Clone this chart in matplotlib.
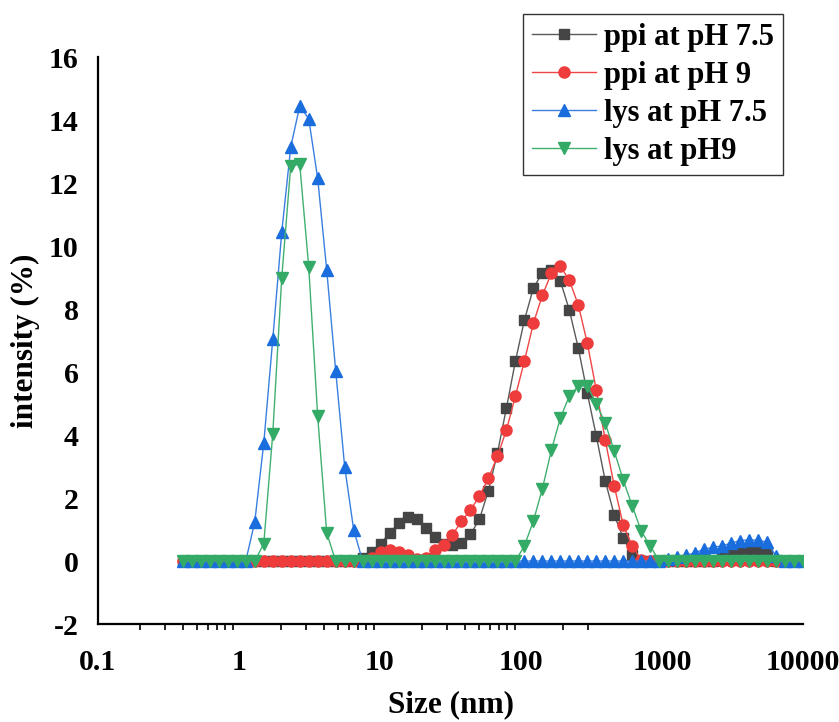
import matplotlib.pyplot as plt
from matplotlib.ticker import FixedLocator, NullFormatter

plt.rcParams['font.family'] = ['Liberation Serif', 'DejaVu Serif']
plt.rcParams['font.weight'] = 'bold'
plt.rcParams['axes.unicode_minus'] = False

# Zetasizer size bins (nm)
size_nm = [0.4, 0.4632, 0.5365, 0.6213, 0.7195, 0.8332, 0.9649, 1.117, 1.294, 1.499,
           1.736, 2.01, 2.328, 2.696, 3.122, 3.615, 4.187, 4.849, 5.615, 6.503,
           7.531, 8.721, 10.1, 11.7, 13.54, 15.69, 18.17, 21.04, 24.36, 28.21,
           32.67, 37.84, 43.82, 50.75, 58.77, 68.06, 78.82, 91.28, 105.7, 122.4,
           141.8, 164.2, 190.1, 220.2, 255.0, 295.3, 342.0, 396.1, 458.7, 531.2,
           615.1, 712.4, 825.0, 955.4, 1106, 1281, 1484, 1718, 1990, 2305,
           2669, 3091, 3580, 4145, 4801, 5560, 6439, 7456, 8635, 10000]

# intensity (%) per bin
ppi_ph75 = [0, 0, 0, 0, 0, 0, 0, 0, 0, 0,
            0, 0, 0, 0, 0, 0, 0, 0, 0, 0,
            0.1, 0.3, 0.55, 0.9, 1.2, 1.4, 1.35, 1.05, 0.75, 0.55,
            0.5, 0.58, 0.85, 1.33, 2.24, 3.43, 4.86, 6.35, 7.65, 8.67,
            9.15, 9.25, 8.9, 7.97, 6.76, 5.33, 3.97, 2.54, 1.46, 0.73,
            0.2, 0, 0, 0, 0, 0, 0, 0, 0, 0,
            0.1, 0.2, 0.25, 0.3, 0.3, 0.25, 0, 0, 0, 0]

ppi_ph9 = [0, 0, 0, 0, 0, 0, 0, 0, 0, 0,
           0, 0, 0, 0, 0, 0, 0, 0, 0, 0,
           0, 0.1, 0.3, 0.35, 0.3, 0.2, 0.05, 0.1, 0.35, 0.5,
           0.83, 1.27, 1.62, 2.06, 2.63, 3.33, 4.16, 5.24, 6.35, 7.55,
           8.44, 9.14, 9.36, 8.92, 8.13, 6.92, 5.43, 3.84, 2.38, 1.14,
           0.48, 0.03, 0, 0, 0, 0, 0, 0, 0, 0,
           0, 0, 0, 0, 0, 0, 0, 0, 0, 0]

lys_ph75 = [0, 0, 0, 0, 0, 0, 0, 0, 1.25, 3.75,
            7.05, 10.45, 13.15, 14.45, 14.05, 12.15, 9.25, 6.05, 3.0, 1.0,
            0, 0, 0, 0, 0, 0, 0, 0, 0, 0,
            0, 0, 0, 0, 0, 0, 0, 0, 0, 0,
            0, 0, 0, 0, 0, 0, 0, 0, 0, 0,
            0, 0, 0, 0, 0.08, 0.12, 0.18, 0.27, 0.37, 0.44,
            0.48, 0.57, 0.65, 0.67, 0.66, 0.6, 0.15, 0, 0, 0]

lys_ph9 = [0, 0, 0, 0, 0, 0, 0, 0, 0, 0.55,
           4.05, 9.0, 12.55, 12.6, 9.35, 4.6, 0.9, 0, 0, 0,
           0, 0, 0, 0, 0, 0, 0, 0, 0, 0,
           0, 0, 0, 0, 0, 0, 0, 0, 0.48, 1.27,
           2.3, 3.52, 4.54, 5.24, 5.56, 5.56, 5.0, 4.38, 3.49, 2.57,
           1.75, 0.95, 0.48, 0, 0, 0, 0, 0, 0, 0,
           0, 0, 0, 0, 0, 0, 0, 0, 0, 0]

x_ticks = [0.1, 1, 10, 100, 1000, 10000]
x_tick_labels = ['0.1', '1', '10', '100', '1000', '10000']
x_minor = [0.2, 0.3, 0.4, 0.5, 0.6, 0.7, 0.8, 0.9,
           2, 3, 4, 5, 6, 7, 8, 9,
           20, 30, 40, 50, 60, 70, 80, 90,
           200, 300]

fig = plt.figure(figsize=(8.39, 7.22), dpi=100)
ax = fig.add_axes([0.1168, 0.1357, 0.8403, 0.785])

ax.plot(size_nm, ppi_ph75, color='#5a5a5a', lw=1.0, marker='s', ms=7.2,
        mfc='#454545', mec='#454545', label='ppi at pH 7.5')
ax.plot(size_nm, ppi_ph9, color='#f04545', lw=1.0, marker='o', ms=8,
        mfc='#ee3b3b', mec='#ee3b3b', label='ppi at pH 9')
ax.plot(size_nm, lys_ph75, color='#3a7fe0', lw=1.0, marker='^', ms=8,
        mfc='#1a6ddc', mec='#1a6ddc', label='lys at pH 7.5')
ax.plot(size_nm, lys_ph9, color='#40b070', lw=1.0, marker='v', ms=8,
        mfc='#33aa66', mec='#33aa66', label='lys at pH9')

ax.set_xscale('log')
ax.set_xlim(0.1, 10000)
ax.set_ylim(-2, 16)
ax.set_xticks(x_ticks)
ax.set_xticklabels(x_tick_labels)
ax.xaxis.set_minor_locator(FixedLocator(x_minor))
ax.xaxis.set_minor_formatter(NullFormatter())
ax.set_yticks(range(-2, 17, 2))

ax.tick_params(axis='x', which='major', length=0, pad=18, labelsize=21.5)
ax.tick_params(axis='x', which='minor', length=4, width=1.2, direction='out')
ax.tick_params(axis='y', which='both', length=0, pad=14, labelsize=21.5)

for side in ['top', 'right']:
    ax.spines[side].set_visible(False)
for side in ['left', 'bottom']:
    ax.spines[side].set_linewidth(1.6)

ax.set_xlabel('Size (nm)', fontsize=22.5, fontweight='bold', labelpad=10)
ax.set_ylabel('intensity (%)', fontsize=22.5, fontweight='bold', labelpad=6)

leg = ax.legend(loc='upper left', bbox_to_anchor=(523 / 839, 1 - 14 / 722),
                bbox_transform=fig.transFigure, borderaxespad=0,
                fontsize=22, frameon=True, fancybox=False, framealpha=1,
                edgecolor='#333333', handlelength=2.1, handletextpad=0.28,
                labelspacing=0.3, borderpad=0.28)
leg.get_frame().set_linewidth(1.0)

fig.savefig('out.png', dpi=100)
